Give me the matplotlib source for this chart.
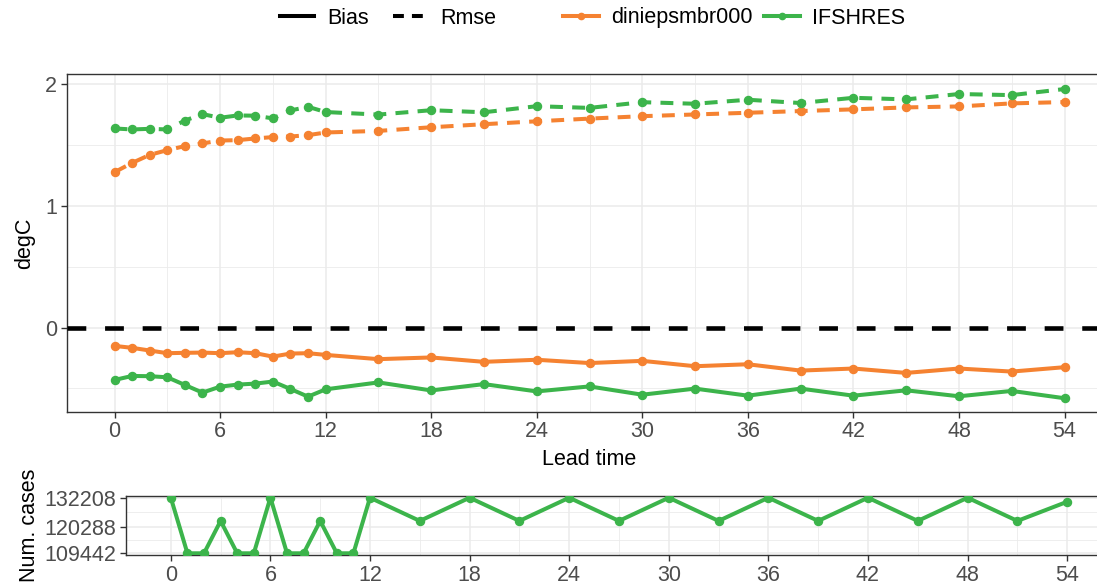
import matplotlib
matplotlib.use("Agg")
import matplotlib.pyplot as plt
from matplotlib.lines import Line2D
from matplotlib.ticker import FixedLocator

plt.rcParams['font.family'] = ['Liberation Sans', 'DejaVu Sans']

# lead times (hours)
lead = [0, 1, 2, 3, 4, 5, 6, 7, 8, 9, 10, 11, 12, 15, 18, 21, 24, 27, 30, 33, 36, 39, 42, 45, 48, 51, 54]

rmse_dini = [1.276, 1.352, 1.418, 1.457, 1.49, 1.512, 1.536, 1.539, 1.553, 1.564, 1.569, 1.58, 1.602,
             1.615, 1.645, 1.670, 1.694, 1.716, 1.736, 1.75, 1.764, 1.778, 1.792, 1.808, 1.816, 1.841, 1.852]
rmse_ifs = [1.635, 1.627, 1.632, 1.627, 1.70, 1.753, 1.723, 1.742, 1.74, 1.718, 1.783, 1.813, 1.770,
            1.749, 1.785, 1.768, 1.818, 1.804, 1.851, 1.838, 1.871, 1.844, 1.887, 1.874, 1.918, 1.909, 1.959]
bias_dini = [-0.151, -0.167, -0.189, -0.211, -0.208, -0.206, -0.211, -0.203, -0.211, -0.239, -0.214, -0.211, -0.225,
             -0.26, -0.246, -0.282, -0.265, -0.292, -0.274, -0.318, -0.302, -0.354, -0.337, -0.373, -0.337, -0.362, -0.326]
bias_ifs = [-0.431, -0.398, -0.40, -0.409, -0.472, -0.535, -0.486, -0.469, -0.461, -0.444, -0.505, -0.568, -0.508,
            -0.451, -0.517, -0.465, -0.525, -0.484, -0.552, -0.502, -0.56, -0.502, -0.56, -0.516, -0.565, -0.521, -0.581]
num_cases = [132208, 109442, 109442, 122700, 109442, 109442, 132208, 109442, 109442, 122700, 109442, 109442, 132208,
             122700, 132208, 122700, 132208, 122700, 132208, 122700, 132208, 122700, 132208, 122700, 132208, 122700, 130550]
case_ticks = [109442, 120288, 132208]
x_ticks = [0, 6, 12, 18, 24, 30, 36, 42, 48, 54]

models = ["diniepsmbr000", "IFSHRES"]
colors = {"diniepsmbr000": "#f58231", "IFSHRES": "#3cb44b"}

FS = 15.5
GRID = "#ebebeb"
BORDER = "#333333"
TICKC = "#4d4d4d"


def style_axis(ax):
    for s in ax.spines.values():
        s.set_color(BORDER)
        s.set_linewidth(1.0)
    ax.tick_params(axis="both", which="major", length=4, width=1, color=BORDER,
                   labelsize=FS, labelcolor=TICKC, pad=3)
    ax.tick_params(axis="both", which="minor", length=0)
    ax.grid(True, which="major", color=GRID, lw=1.1)
    ax.grid(True, which="minor", color=GRID, lw=0.6)
    ax.set_axisbelow(True)
    ax.set_xlim(-2.7, 56.7)
    ax.set_xticks(x_ticks)
    ax.xaxis.set_minor_locator(FixedLocator([t + 3 for t in x_ticks[:-1]]))


fig = plt.figure(figsize=(10.97, 5.86), dpi=100)

# main panel
ax = fig.add_axes([67/1097, 1 - 411.5/586, (1112-67)/1097, (411.5-74.3)/586])
style_axis(ax)
ax.axhline(0, color="black", lw=3.3, dashes=(4.1, 4.1), zorder=3)
for name, rmse, bias in [("diniepsmbr000", rmse_dini, bias_dini), ("IFSHRES", rmse_ifs, bias_ifs)]:
    c = colors[name]
    ax.plot(lead, rmse, color=c, lw=2.9, dashes=(3.2, 2.3), marker="o", ms=5.8, zorder=4)
    ax.plot(lead, bias, color=c, lw=2.9, marker="o", ms=5.8, zorder=4)
ax.set_ylim(-0.69, 2.08)
ax.set_yticks([0, 1, 2])
ax.yaxis.set_minor_locator(FixedLocator([-0.5, 0.5, 1.5]))
ax.set_xlabel("Lead time", fontsize=FS, labelpad=5)
ax.set_ylabel("degC", fontsize=FS, labelpad=7)

# number of cases panel
ax2 = fig.add_axes([126/1097, 1 - 555/586, (1112-126)/1097, (555-496)/586])
style_axis(ax2)
ax2.plot(lead, num_cases, color=colors["IFSHRES"], lw=2.9, marker="o", ms=5.8, zorder=4)
ax2.set_ylim(109442 - 700, 132208 + 700)
ax2.set_yticks(case_ticks)
ax2.yaxis.set_minor_locator(FixedLocator([(a + b) / 2 for a, b in zip(case_ticks[:-1], case_ticks[1:])]))
ax2.set_ylabel("Num. cases", fontsize=FS, labelpad=3)

# legends
lin = [Line2D([], [], color="black", lw=2.9),
       Line2D([], [], color="black", lw=2.9, dashes=(2.7, 2.0))]
fig.legend(lin, ["Bias", "Rmse"], loc="center", bbox_to_anchor=(388/1097, 1 - 18/586),
           ncol=2, frameon=False, fontsize=FS, handlelength=1.6, handletextpad=0.6,
           columnspacing=1.1, borderpad=0)
mod = [Line2D([], [], color=colors[m], lw=2.9, marker="o", ms=4.5) for m in models]
fig.legend(mod, models, loc="center", bbox_to_anchor=(734/1097, 1 - 18/586),
           ncol=2, frameon=False, fontsize=FS, handlelength=1.7, handletextpad=0.55,
           columnspacing=0.5, borderpad=0, numpoints=1)

fig.savefig("out.png", dpi=100)
